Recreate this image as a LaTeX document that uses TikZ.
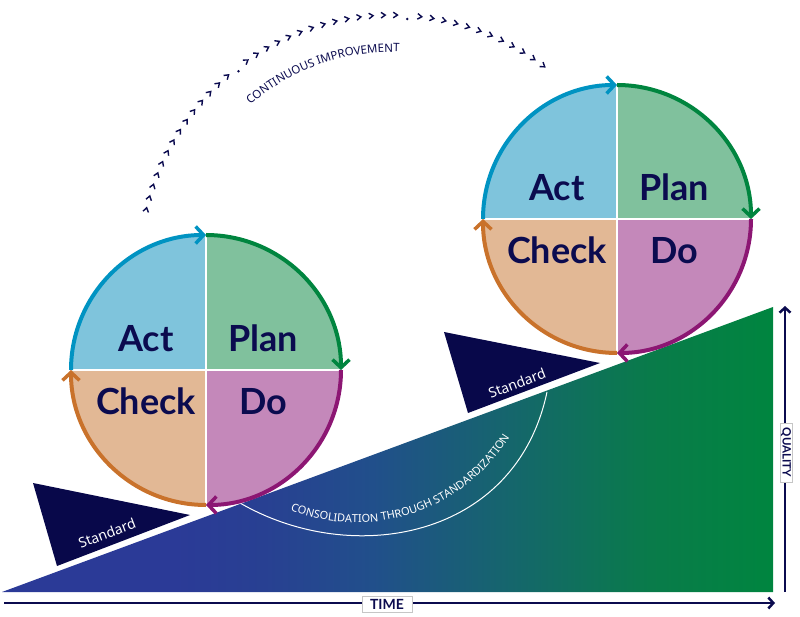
\documentclass[tikz,border=0pt]{standalone}
\usepackage{fontspec}
\setmainfont{Lato}
\newfontfamily\smallsans{Noto Sans}
\usetikzlibrary{arrows.meta,decorations.text,calc}
\definecolor{navy}{HTML}{0B0B4F}
\definecolor{wedgec}{HTML}{08084A}
\definecolor{actfill}{HTML}{7FC4DC}
\definecolor{actarc}{HTML}{0093C2}
\definecolor{planfill}{HTML}{80C19D}
\definecolor{planarc}{HTML}{00853F}
\definecolor{dofill}{HTML}{C488BA}
\definecolor{doarc}{HTML}{8C1673}
\definecolor{checkfill}{HTML}{E2B895}
\definecolor{checkarc}{HTML}{C9722B}
\definecolor{triL}{HTML}{2B3A97}
\definecolor{triA}{HTML}{284092}
\definecolor{triB}{HTML}{214F8B}
\definecolor{triC}{HTML}{15666C}
\definecolor{triD}{HTML}{097B4A}
\definecolor{triR}{HTML}{00853F}
\pgfdeclarehorizontalshading{trishade}{100bp}{color(0bp)=(triL); color(25bp)=(triL); color(36bp)=(triL); color(42bp)=(triA); color(49bp)=(triB); color(58bp)=(triC); color(67bp)=(triD); color(75bp)=(triR); color(100bp)=(triR)}
\newcommand\pdcawheel[3]{%
  \fill[actfill] (#1) -- ($(#1)+(180:#2)$) arc[start angle=180,end angle=90,radius=#2] -- cycle;
  \fill[planfill] (#1) -- ($(#1)+(90:#2)$) arc[start angle=90,end angle=0,radius=#2] -- cycle;
  \fill[dofill] (#1) -- ($(#1)+(0:#2)$) arc[start angle=0,end angle=-90,radius=#2] -- cycle;
  \fill[checkfill] (#1) -- ($(#1)+(-90:#2)$) arc[start angle=-90,end angle=-180,radius=#2] -- cycle;
  \draw[divider] ($(#1)+(90:#2)$) -- ($(#1)+(-90:#2)$);
  \draw[divider] ($(#1)+(180:#2)$) -- ($(#1)+(0:#2)$);
  \draw[cyclearc, actarc] ($(#1)+(180:#2)$) arc[start angle=180,end angle=90,radius=#2];
  \draw[cyclearc, planarc] ($(#1)+(90:#2)$) arc[start angle=90,end angle=0,radius=#2];
  \draw[cyclearc, doarc] ($(#1)+(0:#2)$) arc[start angle=0,end angle=-90,radius=#2];
  \draw[cyclearc, checkarc] ($(#1)+(-90:#2)$) arc[start angle=-90,end angle=-180,radius=#2];
  \node[wheellabel] (#3act) at ($(#1)+(-60,18.5)$) {Act};
  \node[wheellabel] (#3plan) at ($(#1)+(57,18.5)$) {Plan};
  \node[wheellabel] (#3check) at ($(#1)+(-60,-44.7)$) {Check};
  \node[wheellabel] (#3do) at ($(#1)+(57,-44.7)$) {Do};
}
\begin{document}
\begin{tikzpicture}[x=1pt,y=1pt,
  divider/.style={white, line width=1.5pt},
  cyclearc/.style={line width=4pt, -{Straight Barb[length=8pt,width=17pt,line width=3.5pt]}},
  wheellabel/.style={anchor=base, text=navy, inner sep=0pt, font=\fontsize{36}{40}\selectfont\bfseries},
  stdtext/.style={text=white, inner sep=0pt, font=\smallsans\fontsize{14}{16}\selectfont},
  chevron/.style={navy, line width=1.4pt, line join=miter},
  axisline/.style={navy, line width=2.5pt, -{Straight Barb[length=5pt,width=11pt]}},
  axlabel/.style={fill=white, draw=gray!45, line width=0.6pt, text=navy, inner sep=1pt}
]
\useasboundingbox (0,0) rectangle (800,616);
% rising quality triangle
\shade[shading=trishade] (2,24) -- (773,309) -- (773,24) -- cycle;
% consolidation arc
\coordinate (consA) at (240,113);
\coordinate (consB) at (547,224);
\draw[white, line width=1pt] (consA) .. controls (352.6,48) and (516,77) .. (consB);
\coordinate (ct) at (355.8,274.4);
\path[decorate, decoration={text along path, text align=center,
  text={|\smallsans\fontsize{11}{12}\selectfont\color{white}|CONSOLIDATION THROUGH STANDARDIZATION}}]
  ($(ct)+(222:181)$) arc[start angle=222, end angle=355, radius=181];
% standard wedges
\fill[wedgec] (33,133) -- (190,101) -- (57,50) -- cycle;
\node[stdtext, rotate=21] (std1) at (107,83) {Standard};
\fill[wedgec] (444,284) -- (600,253) -- (468,203) -- cycle;
\node[stdtext, rotate=21] (std2) at (517,233) {Standard};
% PDCA wheels
\coordinate (w1) at (206,246);
\pdcawheel{w1}{135}{a}
\coordinate (w2) at (617,397);
\pdcawheel{w2}{134}{b}
% continuous improvement arc
\coordinate (ci) at (391.6,349);
\begin{scope}[shift={(ci)}]
 \foreach \i in {0,...,41}{
   \pgfmathsetmacro\ang{166.9-\i*2.776}
   \ifnum\i=14 \fill[navy] (\ang:248.5) circle[radius=1.3];
   \else\ifnum\i=29 \fill[navy] (\ang:248.5) circle[radius=1.3];
   \else \draw[chevron, shift={(\ang:252)}, rotate=\ang-90] (-2,2.8) -- (2.2,0) -- (-2,-2.8);
   \fi\fi
 }
\end{scope}
\path[decorate, decoration={text along path, text align=center,
  text={|\smallsans\fontsize{11.5}{13}\selectfont\color{navy}|CONTINUOUS IMPROVEMENT}}]
  ($(ci)+(145:215)$) arc[start angle=145, end angle=74, radius=215];
% axes
\coordinate (tstart) at (4,13);
\coordinate (tend) at (775,13);
\draw[axisline] (tstart) -- (tend);
\node[axlabel, minimum width=50pt, minimum height=16pt, font=\fontsize{14}{15}\selectfont\bfseries] (time) at (387,11.5) {TIME};
\coordinate (qstart) at (785,24);
\coordinate (qend) at (785,310);
\draw[axisline] (qstart) -- (qend);
\node[axlabel, rotate=-90, minimum width=59pt, minimum height=12pt, font=\fontsize{11.5}{12}\selectfont\bfseries] (quality) at (786,163.5) {QUALITY};
\end{tikzpicture}
\end{document}
